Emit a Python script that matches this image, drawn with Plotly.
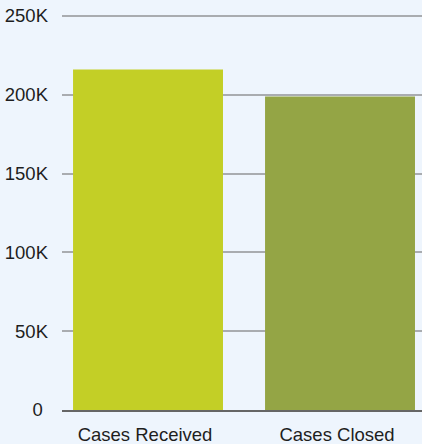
import plotly.graph_objects as go

categories = ["Cases Received", "Cases Closed"]
values = [216000, 199000]
bar_colors = ["#c3cf26", "#94a545"]
tick_values = [0, 50000, 100000, 150000, 200000, 250000]
tick_labels = ["0\u00a0", "50K", "100K", "150K", "200K", "250K"]

bg = "#eef5fd"
text_color = "#1e1e1e"
font_size = 18.5

fig = go.Figure(
    go.Bar(
        x=categories,
        y=values,
        marker=dict(color=bar_colors, line=dict(width=0)),
        width=0.781,
        hoverinfo="x+y",
    )
)

fig.update_layout(
    width=422,
    height=444,
    margin=dict(l=62, r=0, t=14, b=34),
    paper_bgcolor=bg,
    plot_bgcolor=bg,
    showlegend=False,
    font=dict(family="Liberation Sans, Arial, sans-serif", size=font_size, color=text_color),
)

fig.update_xaxes(
    range=[-0.448, 1.427],
    showgrid=False,
    showline=True,
    linecolor="#666666",
    linewidth=2,
    ticks="",
    tickfont=dict(size=font_size, color=text_color),
    ticklabelstandoff=7,
    ticklabelshift=-3,
)

# top of range leaves room so the 250K gridline is drawn inside the plot
fig.update_yaxes(
    range=[0, 251269],
    tickvals=tick_values,
    ticktext=tick_labels,
    showgrid=True,
    gridcolor="#a9acb0",
    gridwidth=1.5,
    zeroline=False,
    showline=False,
    ticks="",
    ticklabelstandoff=13,
    tickfont=dict(size=font_size, color=text_color),
)

fig.write_html("out.html")
